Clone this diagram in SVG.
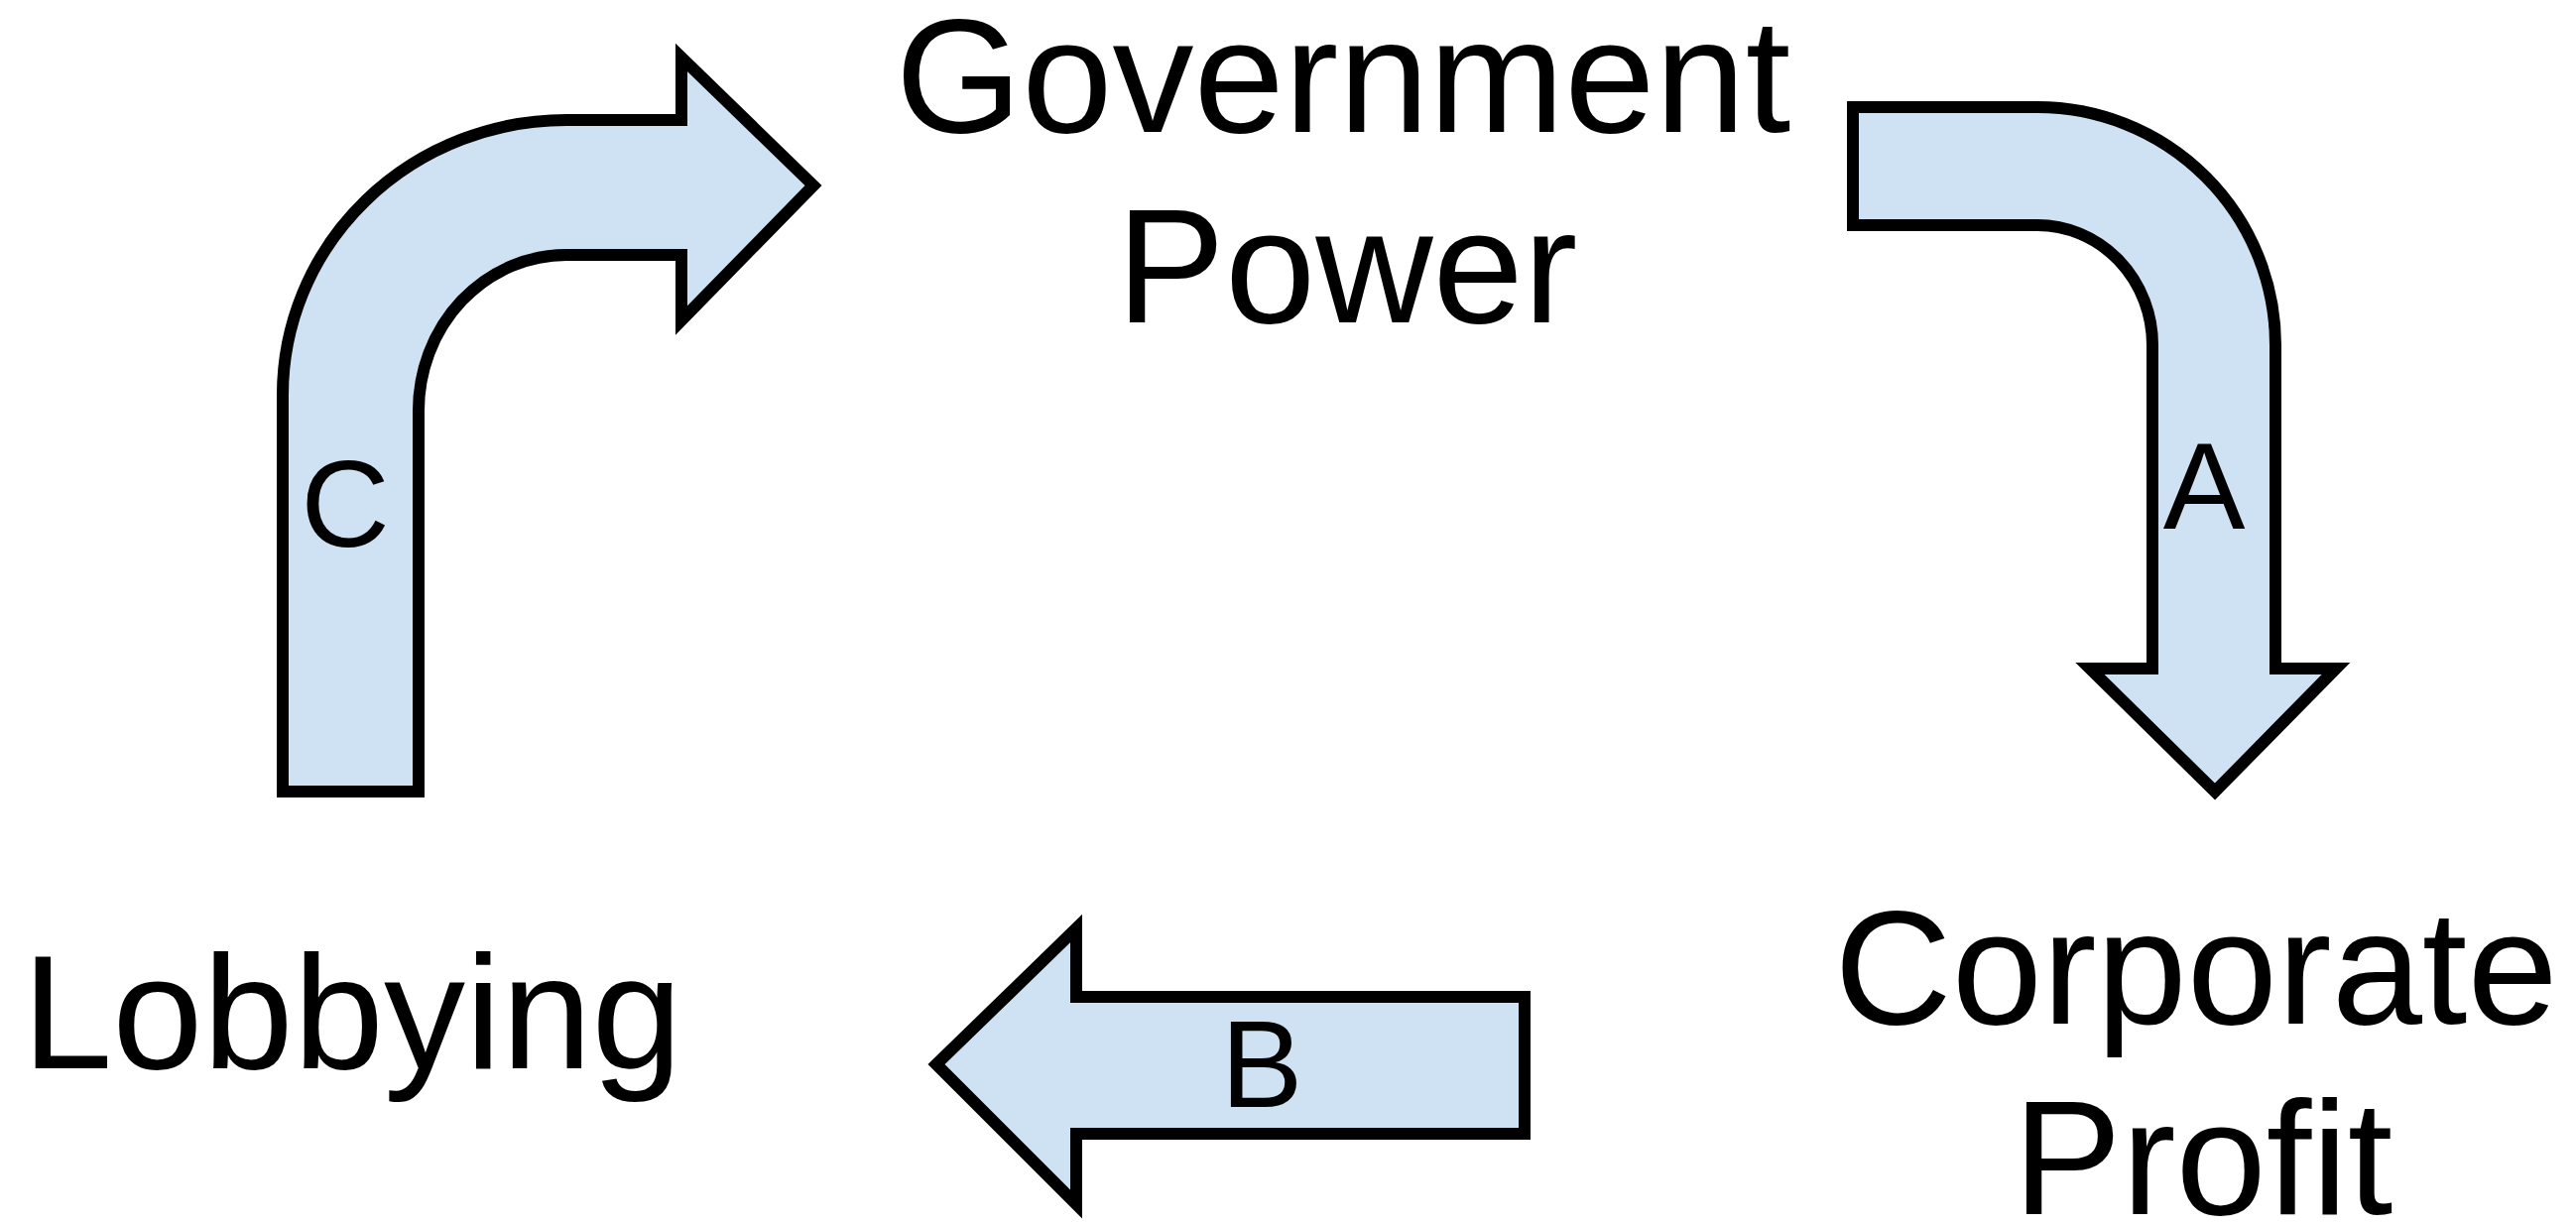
<svg xmlns="http://www.w3.org/2000/svg" width="2597" height="1235" viewBox="0 0 2597 1235">
<style>
.arrow{fill:#cfe2f3;stroke:#000;stroke-width:12;stroke-linejoin:miter}
.node{font-family:"Liberation Sans",Arial,sans-serif;font-size:164px;fill:#000;text-anchor:middle}
.lbl{font-family:"Liberation Sans",Arial,sans-serif;font-size:124px;fill:#000;text-anchor:middle}
</style>
<rect width="2597" height="1235" fill="#fff"/>
<g id="connectors">
<g id="arrowA">
<path class="arrow" d="M1868,108 L2054,108 A240,240 0 0 1 2294,348 L2294,674 L2355,674 L2233,798 L2107,674 L2170,674 L2170,348 A116,121 0 0 0 2054,227 L1868,227 Z"/>
<text class="lbl" x="2222" y="533">A</text>
</g>
<g id="arrowB">
<path class="arrow" d="M1537,1005 L1085,1005 L1085,936 L944,1073 L1085,1214 L1085,1143 L1537,1143 Z"/>
<text class="lbl" x="1272" y="1116">B</text>
</g>
<g id="arrowC">
<path class="arrow" d="M285,798 L285,398 A286,277 0 0 1 571,121 L687,121 L687,58 L820,187 L687,323 L687,257 L571,257 A149,157 0 0 0 422,414 L422,798 Z"/>
<text class="lbl" x="348" y="551">C</text>
</g>
</g>
<g id="node-government">
<text class="node" x="1354" y="133">Government</text>
<text class="node" x="1358" y="325">Power</text>
</g>
<g id="node-corporate">
<text class="node" x="2214" y="1032">Corporate</text>
<text class="node" x="2221" y="1224">Profit</text>
</g>
<g id="node-lobbying">
<text class="node" x="355" y="1077">Lobbying</text>
</g>
</svg>
